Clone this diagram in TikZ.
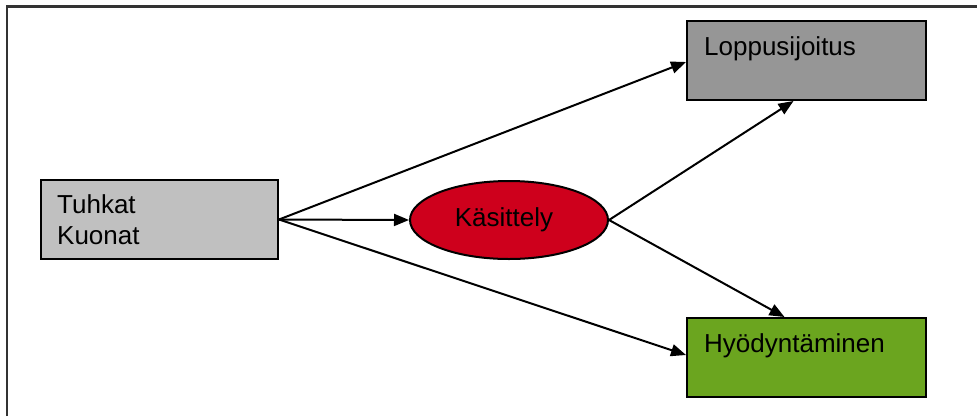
\documentclass[tikz,border=0pt]{standalone}
\usepackage{fontspec}
\setmainfont{Liberation Sans}
\usetikzlibrary{arrows.meta,shapes.geometric,calc}
\definecolor{boxgray}{RGB}{192,192,192}
\definecolor{darkgray}{RGB}{150,150,150}
\definecolor{leafgreen}{RGB}{107,165,31}
\definecolor{redfill}{RGB}{206,0,28}
\definecolor{framegray}{RGB}{51,51,51}
\begin{document}
\begin{tikzpicture}[x=1pt,y=-1pt,
  box/.style={draw=black,line width=2pt,rectangle,inner sep=0pt,minimum width=239pt,minimum height=79pt},
  lbl/.style={anchor=base west,inner sep=0pt,font=\fontsize{26}{31}\selectfont},
  conn/.style={line width=2pt,-{Triangle[length=15pt,width=12pt]}}
]
\useasboundingbox (0,0) rectangle (977,416);
\draw[framegray,line width=2.6pt] (7,416) -- (7,6.3) -- (977,6.3);

\node[box,fill=boxgray,minimum width=237pt] (tuh) at (159.5,219.5) {};
\node[box,fill=darkgray] (lop) at (806.5,60.5) {};
\node[box,fill=leafgreen] (hyo) at (806.5,357.5) {};
\node[draw=black,line width=2pt,ellipse,fill=redfill,inner sep=0pt,minimum width=198pt,minimum height=78pt] (kas) at (509,220) {};

\node[lbl] (t1) at (57,213) {Tuhkat};
\node[lbl] (t2) at (57,244) {Kuonat};
\node[lbl] (t3) at (704,55) {Loppusijoitus};
\node[lbl] (t4) at (704,352) {Hyödyntäminen};
\node[anchor=base,inner sep=0pt,font=\fontsize{26}{31}\selectfont] (t5) at (504,226) {Käsittely};

\draw[conn] (tuh.east) -- (kas.west);
\draw[conn] (tuh.east) -- ($(lop.west)+(0,1.5)$);
\draw[conn] (tuh.east) -- ($(hyo.west)+(0,-2.5)$);
\draw[conn] (kas.east) -- ($(lop.south)+(-13,0)$);
\draw[conn] (kas.east) -- ($(hyo.north)+(-22,0)$);
\end{tikzpicture}
\end{document}
